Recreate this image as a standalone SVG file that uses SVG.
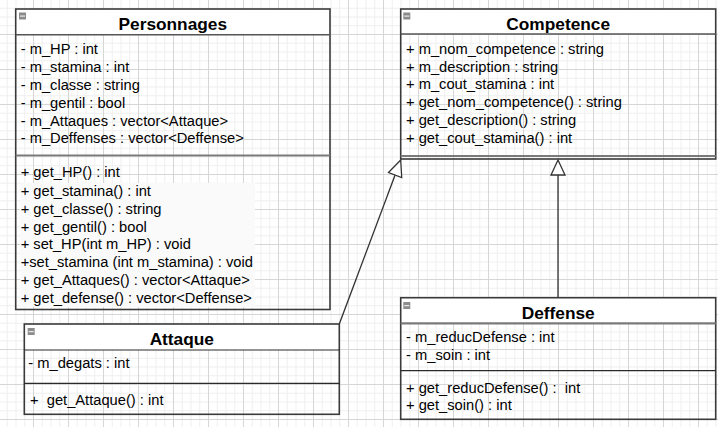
<svg xmlns="http://www.w3.org/2000/svg" width="718" height="427" viewBox="0 0 718 427">
<defs>
<pattern id="grid" patternUnits="userSpaceOnUse" x="33" y="34" width="35" height="35">
<rect width="35" height="35" fill="#ffffff"/>
<path d="M9.25 0V35M18 0V35M26.75 0V35M0 9.25H35M0 18H35M0 26.75H35" stroke="#efefef" stroke-width="1" fill="none"/>
<path d="M0.5 0V35M0 0.5H35" stroke="#d6d6d6" stroke-width="1" fill="none"/>
</pattern>
<g id="icon">
<rect x="0" y="0" width="7" height="7" fill="#8c8c8c"/>
<rect x="1" y="3" width="5" height="1.2" fill="#e8e8e8"/>
</g>
</defs>
<style>
.box{fill:none;stroke:#3a3a3a;stroke-width:1.6}
.head{fill:#ffffff}
.sepg{stroke:#7a7a7a;stroke-width:2.2}
.sepd{stroke:#2a2a2a;stroke-width:1.2}
.title{font-family:"Liberation Sans",Arial,sans-serif;font-weight:bold;font-size:17.3px;fill:#000;text-anchor:middle}
.t{font-family:"Liberation Sans",Arial,sans-serif;font-size:14.7px;fill:#000}
.conn{stroke:#333;stroke-width:1.3;fill:none}
.tri{fill:#ffffff;stroke:#333;stroke-width:1.3}
</style>
<rect width="718" height="427" fill="url(#grid)"/>

<g id="connectors">
<line class="conn" x1="558" y1="175" x2="558" y2="297.7"/>
<polygon class="tri" points="558,160 551,175 565,175"/>
<line class="conn" x1="395.1" y1="175" x2="339.3" y2="324"/>
<polygon class="tri" points="400.7,160 388.5,172.5 401.7,177.5"/>
</g>

<g id="Personnages">
<rect class="head" x="15.7" y="9" width="314.3" height="25.7"/>
<rect x="20" y="183" width="235" height="124" fill="#fafafa"/>
<rect class="box" x="15.7" y="9" width="314.3" height="300.5"/>
<line class="sepg" x1="15.7" y1="34.7" x2="330" y2="34.7" style="stroke-width:1.5;stroke:#555"/>
<line class="sepg" x1="15.7" y1="155.5" x2="330" y2="155.5"/>
<use href="#icon" x="19" y="12.5"/>
<text class="title" x="172.8" y="30">Personnages</text>
<text class="t" x="20.7" y="54">- m_HP : int</text>
<text class="t" x="20.7" y="72">- m_stamina : int</text>
<text class="t" x="20.7" y="90">- m_classe : string</text>
<text class="t" x="20.7" y="107.5">- m_gentil : bool</text>
<text class="t" x="20.7" y="125.5">- m_Attaques : vector&lt;Attaque&gt;</text>
<text class="t" x="20.7" y="143">- m_Deffenses : vector&lt;Deffense&gt;</text>
<text class="t" x="20.7" y="177">+ get_HP() : int</text>
<text class="t" x="20.7" y="195.5">+ get_stamina() : int</text>
<text class="t" x="20.7" y="214">+ get_classe() : string</text>
<text class="t" x="20.7" y="231.5">+ get_gentil() : bool</text>
<text class="t" x="20.7" y="249">+ set_HP(int m_HP) : void</text>
<text class="t" x="20.7" y="266.5">+set_stamina (int m_stamina) : void</text>
<text class="t" x="20.7" y="284.5">+ get_Attaques() : vector&lt;Attaque&gt;</text>
<text class="t" x="20.7" y="302.5">+ get_defense() : vector&lt;Deffense&gt;</text>
</g>

<g id="Competence">
<rect class="head" x="400.7" y="9" width="315" height="25"/>
<rect class="box" x="400.7" y="9" width="315" height="150"/>
<line class="sepg" x1="400.7" y1="34" x2="715.7" y2="34" style="stroke-width:1.5;stroke:#555"/>
<line class="sepg" x1="400.7" y1="156" x2="715.7" y2="156"/>
<use href="#icon" x="403.3" y="12.5"/>
<text class="title" x="558.2" y="30">Competence</text>
<text class="t" x="406" y="53.5">+ m_nom_competence : string</text>
<text class="t" x="406" y="71.5">+ m_description : string</text>
<text class="t" x="406" y="89.3">+ m_cout_stamina : int</text>
<text class="t" x="406" y="107.3">+ get_nom_competence() : string</text>
<text class="t" x="406" y="125">+ get_description() : string</text>
<text class="t" x="406" y="142.7">+ get_cout_stamina() : int</text>
</g>

<g id="Attaque">
<rect class="head" x="24.3" y="324" width="315" height="26"/>
<rect class="box" x="24.3" y="324" width="315" height="90.3"/>
<line class="sepd" x1="24.3" y1="350" x2="339.3" y2="350"/>
<line class="sepd" x1="24.3" y1="383.3" x2="339.3" y2="383.3"/>
<use href="#icon" x="27.7" y="328"/>
<text class="title" x="181.8" y="345">Attaque</text>
<text class="t" x="28.3" y="368.3">- m_degats : int</text>
<text class="t" x="30" y="405.3" xml:space="preserve">+  get_Attaque() : int</text>
</g>

<g id="Deffense">
<rect class="head" x="400.7" y="297.7" width="315" height="25.6"/>
<rect class="box" x="400.7" y="297.7" width="315" height="121.6"/>
<line class="sepg" x1="400.7" y1="323.3" x2="715.7" y2="323.3"/>
<line class="sepd" x1="400.7" y1="370.7" x2="715.7" y2="370.7"/>
<use href="#icon" x="403.3" y="302"/>
<text class="title" x="558.2" y="319.3">Deffense</text>
<text class="t" x="406" y="342.3">- m_reducDefense : int</text>
<text class="t" x="406" y="360">- m_soin : int</text>
<text class="t" x="406" y="393.3" xml:space="preserve">+ get_reducDefense() :  int</text>
<text class="t" x="406" y="410">+ get_soin() : int</text>
</g>
</svg>
